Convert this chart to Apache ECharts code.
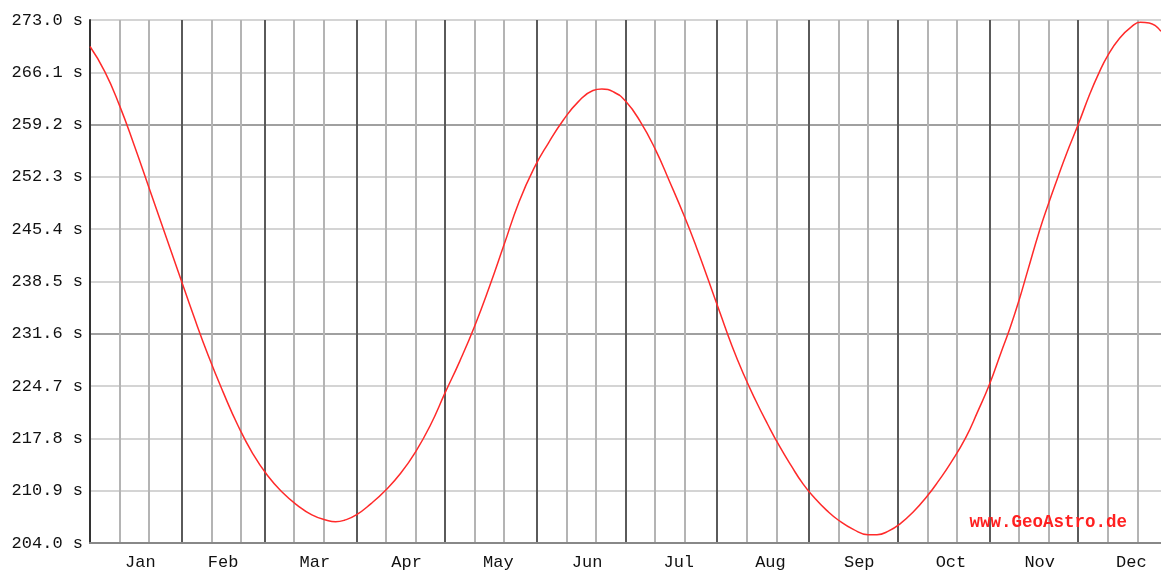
<!DOCTYPE html>
<html>
<head>
<meta charset="utf-8">
<script src="https://cdn.jsdelivr.net/npm/echarts@6/dist/echarts.min.js"></script>
<style>
html,body{margin:0;padding:0;background:#fff;}
#chart{width:1161px;height:571px;}
</style>
</head>
<body>
<div id="chart"></div>
<script>
// day of year (0 = Jan 1) and value in seconds
const days = [0,5,10,15,20,25,30,35,40,45,50,55,60,65,70,75,80,83,86,90,95,100,105,110,115,120,125,130,135,140,145,150,155,160,165,170,173,177,181,186,191,196,201,205,209,213,217,221,225,229,233,237,241,245,249,253,258,263,266,270,274,278,283,287,291,296,300,304,308,311,314,317,321,324,327,330,334,338,341,344,348,352,355,358,362];
const seconds = [269.5,266.2,261.7,256.4,250.8,245.2,239.6,234.0,228.7,223.9,219.5,215.8,212.9,210.7,209.0,207.7,207.0,206.8,207.0,207.7,209.2,211.0,213.2,216.0,219.5,223.8,228.0,232.6,237.8,243.4,249.0,253.4,256.8,259.8,262.2,263.7,263.9,263.5,262.3,259.6,256.0,251.6,247.0,243.0,238.7,234.3,230.0,226.2,222.8,219.7,216.8,214.2,211.8,209.9,208.3,207.0,205.8,205.1,205.1,205.6,206.6,208.0,210.2,212.3,214.6,217.9,221.3,224.9,229.2,232.4,236.0,240.0,245.3,248.8,252.1,255.3,259.2,263.3,266.0,268.3,270.6,272.1,272.7,272.6,271.5];

const monthNames = ['Jan','Feb','Mar','Apr','May','Jun','Jul','Aug','Sep','Oct','Nov','Dec'];
const monthStarts = [0,31,59,90,120,151,181,212,243,273,304,334];
const monthLabelDays = [17,45,76,107,138,168,199,230,260,291,321,352];
const minorDays = [10,20,41,51,69,79,100,110,130,140,161,171,191,201,222,232,253,263,283,293,314,324,344,354];
const yTicks = [204.0,210.9,217.8,224.7,231.6,238.5,245.4,252.3,259.2,266.1,273.0];

const chart = echarts.init(document.getElementById('chart'), null, {renderer:'canvas'});
const font = 'Liberation Mono';
chart.setOption({
  backgroundColor:'#ffffff',
  animation:false,
  title:{
    text:'www.GeoAstro.de',
    right:29, top:509,
    textStyle:{color:'#ff2020', fontFamily:font, fontSize:17.5, fontWeight:'bold'}
  },
  grid:{left:90, right:0, top:20, bottom:26, containLabel:false},
  xAxis:[{
    type:'value', min:0, max:362,
    axisLine:{show:true, onZero:false, lineStyle:{color:'#888', width:2}},
    axisTick:{show:false, customValues:monthStarts},
    axisLabel:{
      customValues:monthLabelDays,
      formatter:function(v){ return monthNames[monthLabelDays.indexOf(v)]; },
      color:'#111', fontFamily:font, fontSize:17, margin:11
    },
    splitLine:{show:true, showMinLine:false, lineStyle:{color:'#5a5a5a', width:2}}
  },{
    type:'value', min:0, max:362, position:'bottom',
    axisLine:{show:false}, axisTick:{show:false, customValues:minorDays},
    axisLabel:{show:false},
    splitLine:{show:true, lineStyle:{color:'#b4b4b4', width:2}}
  }],
  yAxis:{
    type:'value', min:204, max:273,
    axisLine:{show:true, lineStyle:{color:'#333', width:2}},
    axisTick:{show:false, customValues:yTicks},
    axisLabel:{
      customValues:yTicks,
      formatter:function(v){ return v.toFixed(1)+' s'; },
      color:'#111', fontFamily:font, fontSize:17, margin:7
    },
    splitLine:{show:true, lineStyle:{color:['#a0a0a0','#d4d4d4','#d4d4d4','#d4d4d4'], width:2}}
  },
  series:[{
    type:'line',
    data:days.map(function(d,i){return [d, seconds[i]];}),
    showSymbol:false, smooth:0.5,
    lineStyle:{color:'#ff2a2a', width:1.5},
    z:5
  }]
});
</script>
</body>
</html>
